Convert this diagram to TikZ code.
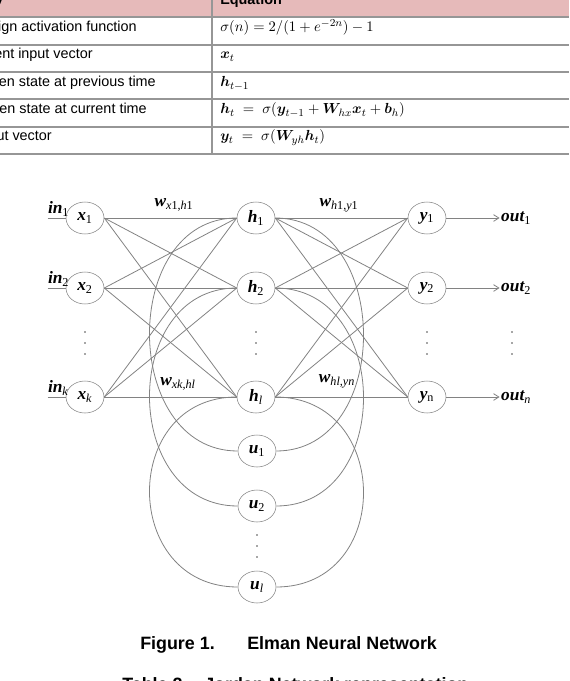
\documentclass[tikz,border=0pt]{standalone}
\usepackage{fontspec}
\usepackage{bm}
\setmainfont{Liberation Sans}
\newfontfamily\tnr{Liberation Serif}
\usetikzlibrary{arrows.meta,positioning,shapes.geometric}
\definecolor{headpink}{RGB}{230,186,186}
\definecolor{rulegray}{RGB}{150,150,150}
\definecolor{wiregray}{RGB}{130,130,130}
\newcommand{\netfont}{\tnr\fontsize{13}{15}\selectfont}
\newcommand{\tabfont}{\fontsize{10.8}{13}\selectfont}
\newcommand{\capfont}{\fontsize{13.4}{16}\selectfont\bfseries}
\newcommand{\vlab}[2]{{\bfseries\itshape #1}\textsubscript{#2}}

\begin{document}
\begin{tikzpicture}[x=0.75pt,y=-0.75pt,
    neuron/.style={draw=wiregray,ellipse,minimum width=28.5pt,minimum height=24pt,inner sep=0pt,font=\netfont},
    lab/.style={inner sep=1pt,font=\netfont},
    wire/.style={draw=wiregray,line width=0.6pt},
    outarrow/.style={wire,-{Straight Barb[length=4pt,width=5pt]}},
    rowtext/.style={anchor=base east,inner sep=0pt,font=\tabfont},
    eqtext/.style={anchor=base west,inner sep=0pt,font=\tabfont},
    caption/.style={anchor=base west,inner sep=0pt,font=\capfont},
    rule/.style={draw=rulegray,line width=1.1pt}
  ]
  \useasboundingbox (0,0) rectangle (569,681);
  \clip (0,0) rectangle (569,681);

  % table
  \fill[headpink] (0,0) rectangle (569,17);
  \node[rowtext] (headprop) at (4,3.5) {\bfseries Property};
  \node[eqtext] (headeq) at (220,4.5) {\bfseries Equation};
  \node[rowtext] (rowsig) at (137,32) {Sign activation function};
  \node[rowtext] (rowin) at (93,59) {Current input vector};
  \node[rowtext] (rowprev) at (156,87) {Hidden state at previous time};
  \node[rowtext] (rowcur) at (147,114) {Hidden state at current time};
  \node[rowtext] (rowout) at (52,141) {Output vector};
  \node[eqtext] (eqsig) at (220,32) {$\sigma(n) = 2/(1 + e^{-2n}) - 1$};
  \node[eqtext] (eqin) at (220,59) {$\bm{x}_t$};
  \node[eqtext] (eqprev) at (220,87) {$\bm{h}_{t-1}$};
  \node[eqtext] (eqcur) at (220,114) {$\bm{h}_t \;=\; \sigma(\bm{y}_{t-1} + \bm{W}_{hx}\bm{x}_t + \bm{b}_h)$};
  \node[eqtext] (eqout) at (220,141) {$\bm{y}_t \;=\; \sigma(\bm{W}_{yh}\bm{h}_t)$};
  \foreach \ry in {17,45,72,99,127,154}
    \draw[rule] (0,\ry) -- (569,\ry);
  \draw[rule] (212,0) -- (212,154);

  % network
  \node[neuron] (x1) at (85,218) {\vlab{x}{1}};
  \node[neuron] (x2) at (85,288) {\vlab{x}{2}};
  \node[neuron] (xk) at (85,397) {\vlab{x}{\textit{k}}};
  \node[neuron] (h1) at (256,218) {\vlab{h}{1}};
  \node[neuron] (h2) at (256,288) {\vlab{h}{2}};
  \node[neuron] (hl) at (256,397) {\vlab{h}{\textit{l}}};
  \node[neuron] (y1) at (427,218) {\vlab{y}{1}};
  \node[neuron] (y2) at (427,288) {\vlab{y}{2}};
  \node[neuron] (yn) at (427,397) {\vlab{y}{n}};
  \node[neuron] (u1) at (257,451) {\vlab{u}{1}};
  \node[neuron] (u2) at (257,506) {\vlab{u}{2}};
  \node[neuron] (ul) at (257,587) {\vlab{u}{\textit{l}}};

  \foreach \a in {x1,x2,xk}
    \foreach \b in {h1,h2,hl}
      \draw[wire] (\a.east) -- (\b.west);
  \foreach \a in {h1,h2,hl}
    \foreach \b in {y1,y2,yn}
      \draw[wire] (\a.east) -- (\b.west);
  \foreach \a/\b in {h1/u1,h2/u2,hl/ul}{
    \draw[wire] (\a.east) .. controls +(117,0) and +(117,0) .. (\b.east);
    \draw[wire] (\a.west) .. controls +(-117,0) and +(-117,0) .. (\b.west);
  }

  % inputs and outputs
  \foreach \n/\s in {1/1,2/2,k/\textit{k}}{
    \coordinate (i\n) at ([xshift=-13.5pt]x\n.west);
    \draw[wire] (i\n) -- (x\n.west);
    \node[lab,anchor=south west] (in\n) at ([xshift=-1pt]i\n) {\vlab{in}{\s}};
  }
  \foreach \n/\s in {1/1,2/2,n/\textit{n}}{
    \coordinate (o\n) at ([xshift=40pt]y\n.east);
    \draw[outarrow] (y\n.east) -- (o\n);
    \node[lab,right=0pt of o\n] (out\n) {\vlab{out}{\s}};
  }

  % weights
  \node[lab] (wxh) at (174,205) {\vlab{w}{\textit{x}1,\textit{h}1}};
  \node[lab] (wxkhl) at (178,384) {\vlab{w}{\textit{xk,hl}}};
  \node[lab] (why) at (339,205) {\vlab{w}{\textit{h}1,\textit{y}1}};
  \node[lab] (whlyn) at (337,381) {\vlab{w}{\textit{hl,yn}}};

  % dots
  \foreach \cx/\cy in {85/332,256/332,427/332,512/332,257/535}
    \foreach \d in {0,1,2}
      \fill[black!70] (\cx,\cy+11*\d) circle (0.9);

  % captions
  \node[caption] (figcap) at (140,649) {Figure 1.};
  \node[caption] (figtitle) at (247,649) {Elman Neural Network};
  \node[caption] (tabcap) at (122,690) {Table 2.};
  \node[caption] (tabtitle) at (204,690) {Jordan Network representation};
\end{tikzpicture}
\end{document}
